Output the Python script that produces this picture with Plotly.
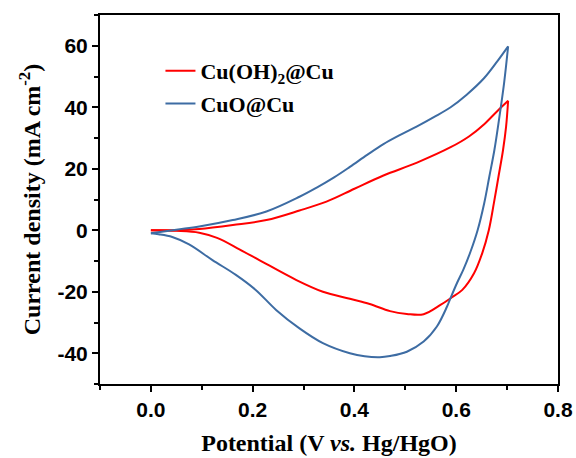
import plotly.graph_objects as go

# CuO@Cu: forward (anodic) scan, then reverse (cathodic) scan
cuo_fwd_potential = [0.0, 0.05, 0.095, 0.161, 0.227, 0.292, 0.325, 0.36, 0.391, 0.425, 0.457, 0.49,
                     0.523, 0.556, 0.589, 0.62, 0.655, 0.681, 0.702]
cuo_fwd_current = [-1.0, 0.2, 1.2, 3.3, 6.1, 10.9, 13.8, 17.2, 20.6, 24.5, 28.0, 31.0,
                   33.8, 36.8, 40.0, 44.0, 49.5, 55.0, 59.8]
cuo_rev_potential = [0.702, 0.694, 0.684, 0.675, 0.665, 0.655, 0.642, 0.628, 0.614, 0.602, 0.589,
                     0.582, 0.562, 0.536, 0.503, 0.47, 0.45, 0.42, 0.391, 0.338, 0.292, 0.246,
                     0.206, 0.167, 0.121, 0.075, 0.042, 0.015, 0.0]
cuo_rev_current = [59.8, 47.8, 35.9, 26.1, 17.4, 8.8, 0.0, -7.0, -12.8, -17.0, -22.0,
                   -24.8, -31.3, -36.2, -39.5, -40.9, -41.3, -41.0, -40.0, -36.7, -31.9, -25.9,
                   -19.4, -14.5, -9.7, -4.6, -2.2, -1.3, -1.0]

# Cu(OH)2@Cu
cuoh_fwd_potential = [0.0, 0.05, 0.095, 0.161, 0.227, 0.292, 0.345, 0.4, 0.457, 0.523, 0.589,
                      0.625, 0.655, 0.681, 0.702]
cuoh_fwd_current = [0.0, 0.0, 0.4, 1.7, 3.3, 6.4, 9.3, 13.5, 17.8, 22.0, 27.0,
                    30.5, 34.5, 38.8, 42.1]
cuoh_rev_potential = [0.702, 0.698, 0.692, 0.683, 0.674, 0.664, 0.651, 0.635, 0.612, 0.589, 0.569,
                      0.536, 0.503, 0.47, 0.43, 0.391, 0.338, 0.286, 0.213, 0.174, 0.13, 0.095,
                      0.05, 0.0]
cuoh_rev_current = [42.1, 33.7, 26.1, 17.4, 8.8, 0.0, -7.5, -14.0, -19.4, -22.1, -24.3,
                    -27.3, -27.2, -26.3, -24.0, -22.3, -20.0, -16.2, -9.7, -6.2, -2.5, -0.8,
                    -0.2, 0.0]

x_ticks = [0.0, 0.2, 0.4, 0.6, 0.8]
x_tick_labels = ["0.0", "0.2", "0.4", "0.6", "0.8"]
y_ticks = [-40, -20, 0, 20, 40, 60]
y_tick_labels = ["-40", "-20", "0", "20", "40", "60"]

RED = "#FF0000"
BLUE = "#3D6CA3"

fig = go.Figure()
fig.add_trace(go.Scatter(x=cuoh_fwd_potential, y=cuoh_fwd_current, mode="lines",
                         name="Cu(OH)<sub>2</sub>@Cu",
                         line=dict(color=RED, width=2, shape="spline", smoothing=1),
                         legendgroup="a"))
fig.add_trace(go.Scatter(x=cuoh_rev_potential, y=cuoh_rev_current, mode="lines",
                         name="Cu(OH)<sub>2</sub>@Cu", showlegend=False,
                         line=dict(color=RED, width=2, shape="spline", smoothing=1),
                         legendgroup="a"))
fig.add_trace(go.Scatter(x=cuo_fwd_potential, y=cuo_fwd_current, mode="lines",
                         name="CuO@Cu",
                         line=dict(color=BLUE, width=2, shape="spline", smoothing=1),
                         legendgroup="b"))
fig.add_trace(go.Scatter(x=cuo_rev_potential, y=cuo_rev_current, mode="lines",
                         name="CuO@Cu", showlegend=False,
                         line=dict(color=BLUE, width=2, shape="spline", smoothing=1),
                         legendgroup="b"))

axis_common = dict(showline=True, linecolor="black", linewidth=2, mirror=True,
                   ticks="outside", ticklen=6, tickwidth=2, tickcolor="black",
                   showgrid=False, zeroline=False, automargin=False,
                   tickfont=dict(family="Arial", size=21, color="black", weight="bold"))

fig.update_xaxes(range=[-0.1, 0.8], tickvals=x_ticks, ticktext=x_tick_labels,
                 minor=dict(dtick=0.1, ticks="outside", ticklen=4, tickwidth=2, tickcolor="black"),
                 title=dict(text="Potential (V <i>vs.</i> Hg/HgO)", standoff=14,
                            font=dict(family="Times New Roman", size=24, color="black", weight="bold")),
                 **axis_common)
fig.update_yaxes(range=[-50, 70], tickvals=y_ticks, ticktext=y_tick_labels,
                 minor=dict(dtick=10, ticks="outside", ticklen=4, tickwidth=2, tickcolor="black"),
                 title=dict(text="Current density (mA cm<sup>-2</sup>)", standoff=10,
                            font=dict(family="Times New Roman", size=24, color="black", weight="bold")),
                 **axis_common)

fig.update_layout(width=576, height=458,
                  margin=dict(l=100, r=18, t=15, b=74),
                  plot_bgcolor="white", paper_bgcolor="white",
                  legend=dict(x=0.132, y=0.905, xanchor="left", yanchor="top",
                              bgcolor="rgba(0,0,0,0)", traceorder="grouped", tracegroupgap=1,
                              font=dict(family="Times New Roman", size=22, color="black", weight="bold")),
                  )

fig.write_html("out.html", config={"displayModeBar": False},
               post_script="document.body.style.margin='0';")
